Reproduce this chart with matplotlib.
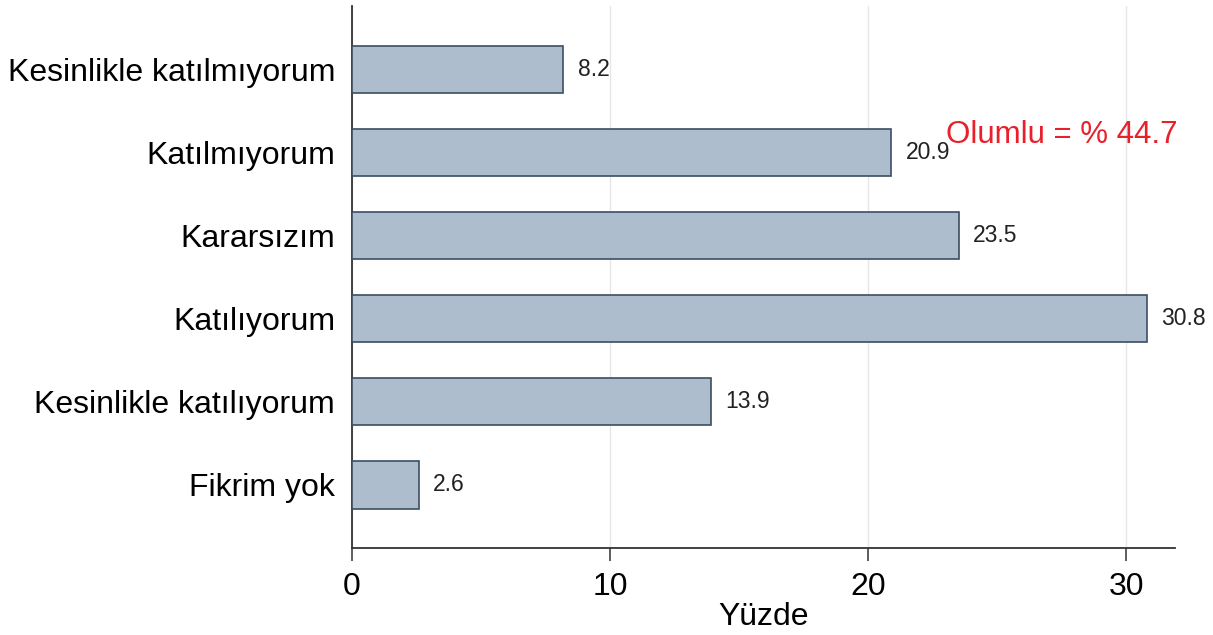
import matplotlib.pyplot as plt

plt.rcParams['font.family'] = ['Liberation Sans', 'DejaVu Sans']

categories = ['Kesinlikle katılmıyorum', 'Katılmıyorum', 'Kararsızım',
              'Katılıyorum', 'Kesinlikle katılıyorum', 'Fikrim yok']
values = [8.2, 20.9, 23.5, 30.8, 13.9, 2.6]
x_ticks = [0, 10, 20, 30]
note = 'Olumlu = % 44.7'

fig = plt.figure(figsize=(12.13, 6.35), dpi=100)
ax = fig.add_axes([0.290, 0.137, 0.679, 0.853])

pos = list(range(len(categories)))
ax.barh(pos, values, height=0.57, color='#aebdcd', edgecolor='#3c4e62', linewidth=1.2, zorder=3)

for p, v in zip(pos, values):
    ax.text(v + 0.55, p, f'{v}', va='center', ha='left', fontsize=16.5, color='#222222', zorder=4)

ax.text(23.0, 0.79, note, color='#e8202a', fontsize=22.5, ha='left', va='center', zorder=5)

ax.set_ylim(5.76, -0.76)
ax.set_xlim(0, 31.9)
ax.set_yticks(pos)
ax.set_yticklabels(categories, fontsize=23)
ax.set_xticks(x_ticks)
ax.set_xticklabels([str(t) for t in x_ticks], fontsize=23)
ax.set_xlabel('Yüzde', fontsize=23, labelpad=0)

ax.grid(axis='x', color='#e6e6e6', linewidth=1, zorder=0)
for s in ['top', 'right']:
    ax.spines[s].set_visible(False)
ax.spines['left'].set_color('#333333')
ax.spines['bottom'].set_color('#333333')
ax.spines['left'].set_linewidth(1.3)
ax.spines['bottom'].set_linewidth(1.3)
ax.tick_params(axis='x', length=9, width=1.1, color='#333333', pad=8)
ax.tick_params(axis='y', length=0, pad=12)

fig.savefig('out.png', dpi=100)
